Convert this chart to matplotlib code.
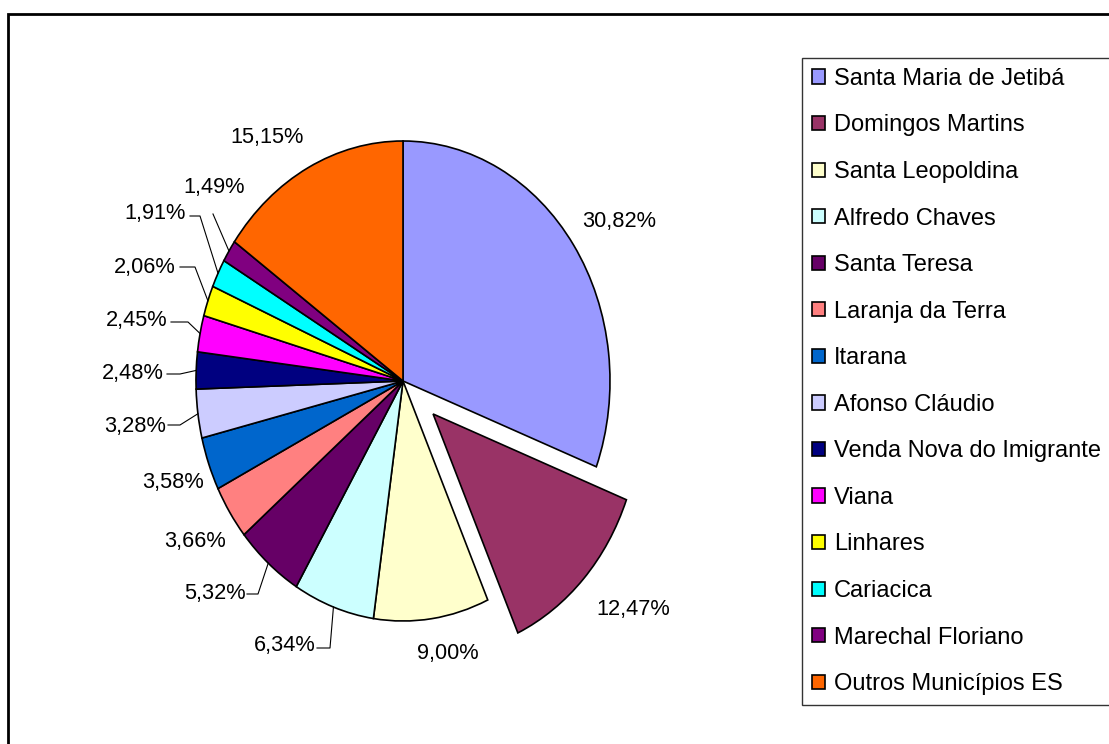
import matplotlib
matplotlib.use('Agg')
import matplotlib.pyplot as plt
from matplotlib.patches import Rectangle
import numpy as np

plt.rcParams['font.family'] = ['Liberation Sans', 'DejaVu Sans']

municipios = ["Santa Maria de Jetibá", "Domingos Martins", "Santa Leopoldina",
              "Alfredo Chaves", "Santa Teresa", "Laranja da Terra", "Itarana",
              "Afonso Cláudio", "Venda Nova do Imigrante", "Viana", "Linhares",
              "Cariacica", "Marechal Floriano", "Outros Municípios ES"]
percentuais = [30.82, 12.47, 9.00, 6.34, 5.32, 3.66, 3.58, 3.28, 2.48, 2.45,
               2.06, 1.91, 1.49, 15.15]
cores = ["#9999FF", "#993366", "#FFFFCC", "#CCFFFF", "#660066", "#FF8080",
         "#0066CC", "#CCCCFF", "#000080", "#FF00FF", "#FFFF00", "#00FFFF",
         "#800080", "#FF6600"]
destaque = [0, 0.2, 0, 0, 0, 0, 0, 0, 0, 0, 0, 0, 0, 0]

W, H = 1109, 744
CX, CY, RX, RY = 403, 381, 207, 240  # layout: pie centre and radii in pixels

fig = plt.figure(figsize=(W / 100, H / 100), dpi=100)
ax = fig.add_axes([0, 0, 1, 1])
wedges, _ = ax.pie(percentuais, colors=cores, startangle=90, counterclock=False,
                   explode=destaque,
                   wedgeprops=dict(edgecolor='black', linewidth=1.2))
ax.set_aspect('auto')
ax.set_xlim(-CX / RX, (W - CX) / RX)
ax.set_ylim(-(H - CY) / RY, CY / RY)
ax.axis('off')


def px(x, y):
    return ((x - CX) / RX, (CY - y) / RY)


# layout of labels: (x, y, ha, leader path in pixels or None)
layout = [
    (619, 222, 'center', None),
    (633, 610, 'center', None),
    (448, 653, 'center', None),
    (316, 646, 'right', [(317, 648), (330, 648)]),
    (246, 594, 'right', [(247, 594), (258, 594)]),
    (195, 541, 'center', None),
    (173, 483, 'center', None),
    (166, 427, 'right', [(168, 425), (180, 425)]),
    (164, 374, 'right', [(167, 374), (180, 374)]),
    (168, 321, 'right', [(171, 322), (188, 322)]),
    (176, 268, 'right', [(180, 267), (195, 267)]),
    (186, 214, 'right', [(190, 216), (200, 216)]),
    (214, 188, 'center', [(213, 214)]),
    (267, 138, 'center', None),
]

for w, v, (x, y, ha, path) in zip(wedges, percentuais, layout):
    txt = f"{v:.2f}%".replace('.', ',')
    tx, ty = px(x, y)
    ax.text(tx, ty, txt, ha=ha, va='center', fontsize=15.7, color='black')
    if path is not None:
        mid = np.deg2rad((w.theta1 + w.theta2) / 2)
        ex = w.center[0] + w.r * np.cos(mid)
        ey = w.center[1] + w.r * np.sin(mid)
        pts = [px(a, b) for a, b in path] + [(ex, ey)]
        xs, ys = zip(*pts)
        ax.plot(xs, ys, color='black', lw=0.8)

leg = ax.legend(wedges, municipios, loc='upper left',
                bbox_to_anchor=(802 / W, 1 - 58 / H), bbox_transform=fig.transFigure,
                borderaxespad=0, frameon=True, fancybox=False, edgecolor='black',
                fontsize=17, handlelength=0.55, handleheight=0.55,
                handletextpad=0.38, labelspacing=1.04, borderpad=0.42)
leg.get_frame().set_linewidth(1.0)

fig.add_artist(Rectangle((8 / W, -0.1), 1.2, (1 - 14 / H) + 0.1,
                         transform=fig.transFigure, fill=False,
                         edgecolor='black', lw=2))

fig.savefig('out.png', dpi=100, facecolor='white')
